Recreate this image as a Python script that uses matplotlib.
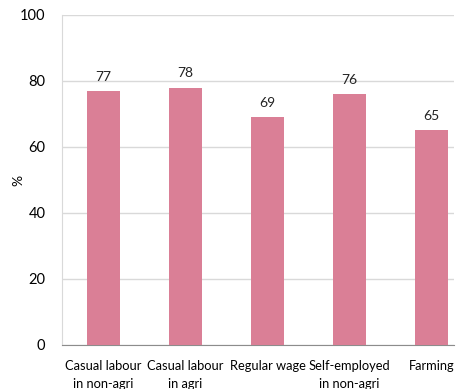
import numpy as np
import matplotlib.pyplot as plt

plt.rcParams['font.family'] = ['Lato', 'DejaVu Sans']

categories = ['Casual labour\nin non-agri', 'Casual labour\nin agri', 'Regular wage',
              'Self-employed\nin non-agri', 'Farming']
values = [77, 78, 69, 76, 65]

fig = plt.figure(figsize=(4.62, 3.89), dpi=100)
# plot area is cut off on the right in the original
ax = fig.add_axes([62 / 462, 44 / 389, 392 / 462, 330 / 389])

x = np.arange(len(categories))
bars = ax.bar(x, values, width=0.4, color='#DA7F96', zorder=3)
for xi, v in zip(x, values):
    ax.annotate(str(v), (xi, v), xytext=(0, 6), textcoords='offset points',
                ha='center', va='bottom', fontsize=10, color='#222222')

ax.set_xlim(-0.5, 4.27)
ax.set_ylim(0, 100)
ax.set_yticks([0, 20, 40, 60, 80, 100])
ax.yaxis.grid(True, color='#d9d9d9', linewidth=1, zorder=0)
ax.set_xticks(x)
ax.set_xticklabels(categories, fontsize=9.3, linespacing=1.6)
ax.tick_params(axis='x', length=0, pad=11)
ax.tick_params(axis='y', length=0, pad=12, labelsize=10.5)

for s in ['top', 'right']:
    ax.spines[s].set_visible(False)
ax.spines['left'].set_color('#d9d9d9')
ax.spines['bottom'].set_color('#8c8c8c')

ax.set_ylabel('%', fontsize=10)
ax.yaxis.set_label_coords(-0.095, 0.5)

plt.savefig('out.png', dpi=100)
plt.close()
